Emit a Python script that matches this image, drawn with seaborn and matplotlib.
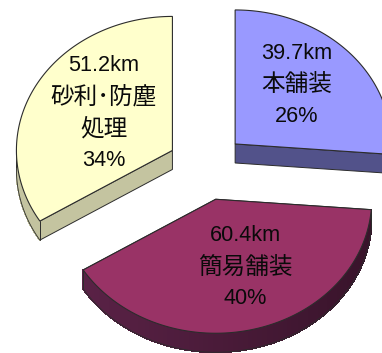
import numpy as np
import matplotlib
matplotlib.use("Agg")
import matplotlib.pyplot as plt
from matplotlib.collections import PolyCollection
from matplotlib.patches import Polygon
import seaborn as sns

# Road surface lengths in km, clockwise from twelve o'clock
surface_names = ["本舗装", "簡易舗装", "砂利･防塵\n処理"]
lengths_km = [39.7, 60.4, 51.2]

top_colors = ["#9999ff", "#993366", "#ffffcc"]
wall_light = ["#55558c", "#5c2348", "#c4c4a0"]
wall_dark = ["#4d4d80", "#38132a", "#b8b894"]
radial_colors = ["#52528a", "#38132a", "#c4c4a0"]

# Label centres in units of the pie radius
label_centres = [(0.58, 0.61), (0.247, -0.75), (-0.657, 0.40)]

EXPLODE = 0.25
DEPTH = 0.142
EDGE = "#2c2c2c"
LINE_STEP_PT = 22.8
LATIN = ["Liberation Sans", "Noto Sans CJK JP"]
CJK = ["Noto Sans CJK JP", "DejaVu Sans"]

sns.set_theme(style="white")
plt.rcParams["font.family"] = CJK

fig = plt.figure(figsize=(3.82, 3.53), dpi=100)
ax = fig.add_axes([0, 0, 1, 1])

# One pie radius spans 156 px across and 134 px down, which gives the tilt
ax.set_xlim(-206.5 / 156, 175.5 / 156)
ax.set_ylim(-186.3 / 134, 166.7 / 134)
ax.axis("off")

values = np.asarray(lengths_km)
shares = values / values.sum()
ends = 90 - 360 * np.cumsum(shares)
starts = np.r_[90, ends[:-1]]
drop = np.array([0, DEPTH])

for start, end, top, light, dark, radial in zip(
    starts, ends, top_colors, wall_light, wall_dark, radial_colors
):
    mid = np.radians((start + end) / 2)
    apex = np.array([EXPLODE * np.cos(mid), EXPLODE * np.sin(mid)])
    theta = np.radians(np.linspace(start, end, 160))
    arc = apex + np.c_[np.cos(theta), np.sin(theta)]

    # Radial faces that drop below the apex; the top face hides any turned away
    for rim in (arc[0], arc[-1]):
        if rim[1] < apex[1]:
            quad = [apex, rim, rim - drop, apex - drop]
            ax.add_patch(Polygon(quad, closed=True, fc=radial, ec=EDGE, lw=0.7, zorder=2))

    # Outer wall along the front of the rim, shaded from left to right
    front = np.sin(theta) <= 0.03
    rim_front = arc[front]
    rim_cos = np.cos(theta[front])
    quads = [
        [rim_front[i], rim_front[i + 1], rim_front[i + 1] - drop, rim_front[i] - drop]
        for i in range(len(rim_front) - 1)
    ]
    palette = sns.blend_palette([light, dark], n_colors=64)
    shades = [palette[int((c + 1) / 2 * 63)] for c in rim_cos[:-1]]
    ax.add_collection(
        PolyCollection(quads, facecolors=shades, edgecolors=shades,
                       linewidths=0.6, antialiaseds=False, zorder=2)
    )

    # Lower silhouette of the wall and its end corners
    lower = rim_front - drop
    ax.plot(lower[:, 0], lower[:, 1], color=EDGE, lw=0.6, zorder=3)
    for corner in (rim_front[0], rim_front[-1]):
        ax.plot([corner[0], corner[0]], [corner[1], corner[1] - DEPTH],
                color=EDGE, lw=0.7, zorder=3)

    # Top face
    outline = np.vstack([apex, arc])
    ax.add_patch(Polygon(outline, closed=True, fc=top, ec=EDGE, lw=0.8, zorder=4))

# Stacked labels: length, surface name, share
for name, km, share, centre in zip(surface_names, lengths_km, shares, label_centres):
    lines = [(f"{km}km", LATIN, 15.6)]
    lines += [(part, CJK, 17.0) for part in name.split("\n")]
    lines += [(f"{share * 100:.0f}%", LATIN, 15.6)]
    first = (len(lines) - 1) / 2
    for row, (text, family, size) in enumerate(lines):
        ax.annotate(text, xy=centre, xytext=(0, (first - row) * LINE_STEP_PT),
                    textcoords="offset points", ha="center", va="center",
                    family=family, fontsize=size, color="#0a0a0a", zorder=6)

fig.savefig("out.png", dpi=100, facecolor="white")
